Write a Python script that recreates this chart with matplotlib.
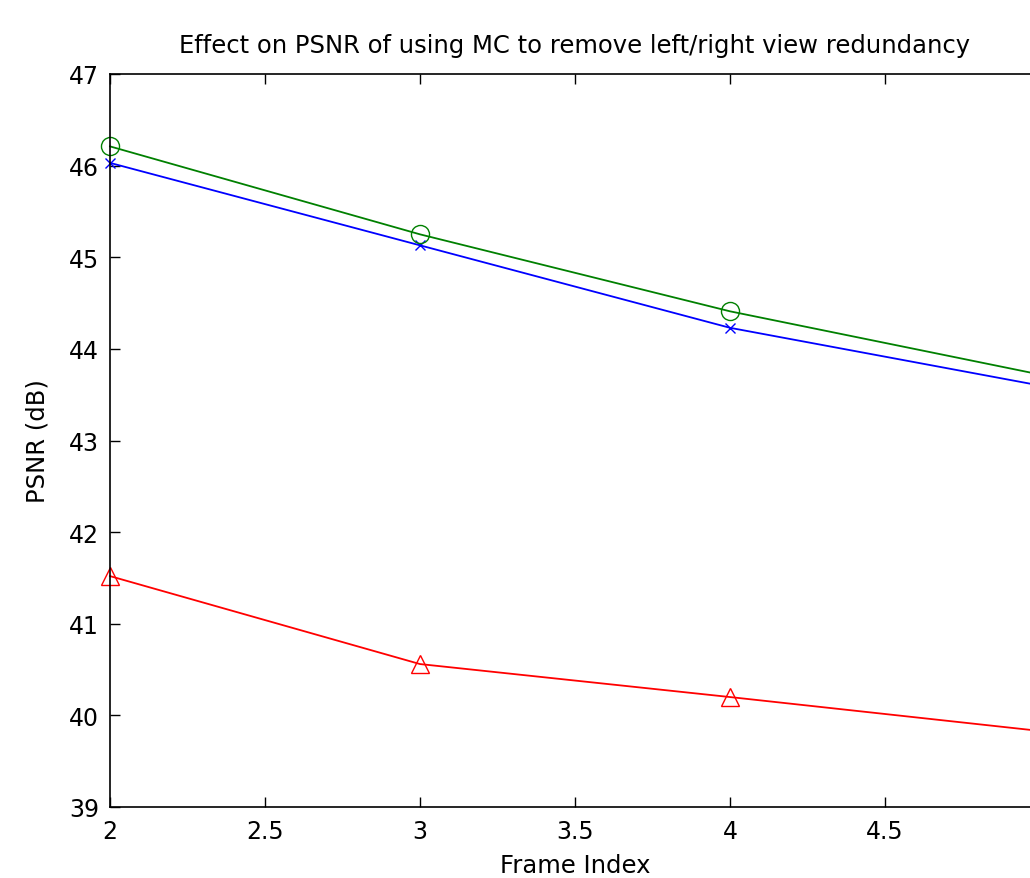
import matplotlib
matplotlib.use("Agg")
import matplotlib.pyplot as plt

# Data
frames = [2, 3, 4, 5]
psnr_plain = [46.03, 45.13, 44.23, 43.60]     # blue, x markers
psnr_mc = [46.21, 45.25, 44.41, 43.72]        # green, circles
psnr_other = [41.52, 40.56, 40.20, 39.83]     # red, triangles

xticks = [2, 2.5, 3, 3.5, 4, 4.5, 5]
xticklabels = ['2', '2.5', '3', '3.5', '4', '4.5', '']  # 5 falls off the picture
yticks = [39, 40, 41, 42, 43, 44, 45, 46, 47]

plt.rcParams['font.family'] = ['DejaVu Sans']

fig = plt.figure(figsize=(10.3, 8.79), dpi=100)
# axes run past the right edge of the picture, as in the reference
ax = fig.add_axes([110/1030, 71/879, 930/1030, 733/879])

ax.plot(frames, psnr_plain, color='blue', marker='x', markersize=6.5,
        linewidth=1.3, clip_on=False)
ax.plot(frames, psnr_mc, color=(0, 0.5, 0), marker='o', markersize=13,
        markerfacecolor='none', linewidth=1.3, clip_on=False)
ax.plot(frames, psnr_other, color='red', marker='^', markersize=13,
        markerfacecolor='none', linewidth=1.3, clip_on=False)

ax.set_xlim(2, 5)
ax.set_ylim(39, 47)
ax.set_xticks(xticks)
ax.set_xticklabels(xticklabels)
ax.set_yticks(yticks)
ax.tick_params(direction='in', top=True, right=True, length=7.5, width=1,
               labelsize=17)
ax.tick_params(axis='x', pad=9)
ax.tick_params(axis='y', pad=8)
for sp in ax.spines.values():
    sp.set_linewidth(1.2)

ax.set_title('Effect on PSNR of using MC to remove left/right view redundancy',
             fontsize=17.5, pad=16)
ax.set_xlabel('Frame Index', fontsize=17.5, labelpad=7)
ax.set_ylabel('PSNR (dB)', fontsize=17.5, labelpad=14)

fig.savefig('out.png', dpi=100)
